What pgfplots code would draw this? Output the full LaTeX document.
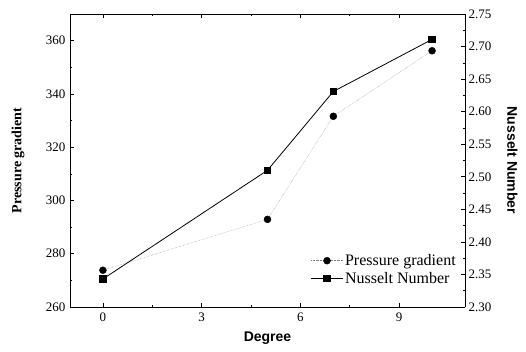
\documentclass[border=0pt]{standalone}
\usepackage{pgfplots}
\pgfplotsset{compat=1.18}
\usepackage{fontspec}
\setmainfont{Liberation Serif}
\setsansfont{Liberation Sans}
\begin{document}
\begin{tikzpicture}
\useasboundingbox (-70pt,-44pt) rectangle (456pt,307pt);
\pgfplotsset{
  common/.style={
    scale only axis, width=395pt, height=293pt,
    xmin=-1, xmax=11,
    xtick={0,3,6,9},
    minor x tick num=1,
    tick align=inside,
    major tick length=4pt, minor tick length=2.5pt,
    tick style={black, line width=0.6pt},
    axis line style={line width=0.8pt},
    ticklabel style={font=\fontsize{13}{14}\selectfont},
    /pgf/number format/assume math mode=true,
  }
}
\begin{axis}[common,
  axis y line*=left, axis x line*=box,
  ymin=260, ymax=370,
  ytick={260,280,...,360},
  minor y tick num=1,
  yticklabel style={xshift=-1pt},
  xticklabel style={yshift=-2pt},
  xlabel={\sffamily\bfseries Degree},
  ylabel={\bfseries Pressure gradient},
  label style={font=\fontsize{14}{16}\selectfont},
  xlabel style={at={(rel axis cs:0.5,-0.106)}, anchor=center},
  ylabel style={at={(rel axis cs:-0.1316,0.5)}, anchor=center},
  legend style={draw=none, fill=none, at={(0.607,0.128)}, anchor=west,
    font=\fontsize{16}{18}\selectfont, row sep=1pt, inner sep=1pt},
  legend cell align=left,
  legend image code/.code={\draw[mark repeat=2,mark phase=2,#1] plot coordinates {(0cm,0cm) (0.55cm,0cm) (1.1cm,0cm)};},
]
\addplot[gray, densely dotted, thin, mark=*, mark size=3.5pt, mark options={solid, fill=black, draw=black}]
  coordinates {(0,273.8) (5,292.9) (7,331.6) (10,356.2)};
\addlegendentry{Pressure gradient}
\addlegendimage{black, line width=0.8pt, mark=square*, mark size=3.2pt, mark options={solid, fill=black}}
\addlegendentry{Nusselt Number}
\end{axis}
\begin{axis}[common,
  axis y line*=right, axis x line=none,
  ymin=2.30, ymax=2.75,
  ytick={2.30,2.35,...,2.75},
  minor y tick num=1,
  yticklabel style={/pgf/number format/.cd, fixed, fixed zerofill, precision=2},
  ylabel={\sffamily\bfseries Nusselt Number},
  ylabel style={at={(rel axis cs:1.12,0.5)}, anchor=center, rotate=180, font=\fontsize{14}{16}\selectfont},
]
\addplot[black, line width=0.8pt, mark=square*, mark size=3.2pt, mark options={solid, fill=black}]
  coordinates {(0,2.343) (5,2.510) (7,2.631) (10,2.711)};
\end{axis}
\end{tikzpicture}
\end{document}
